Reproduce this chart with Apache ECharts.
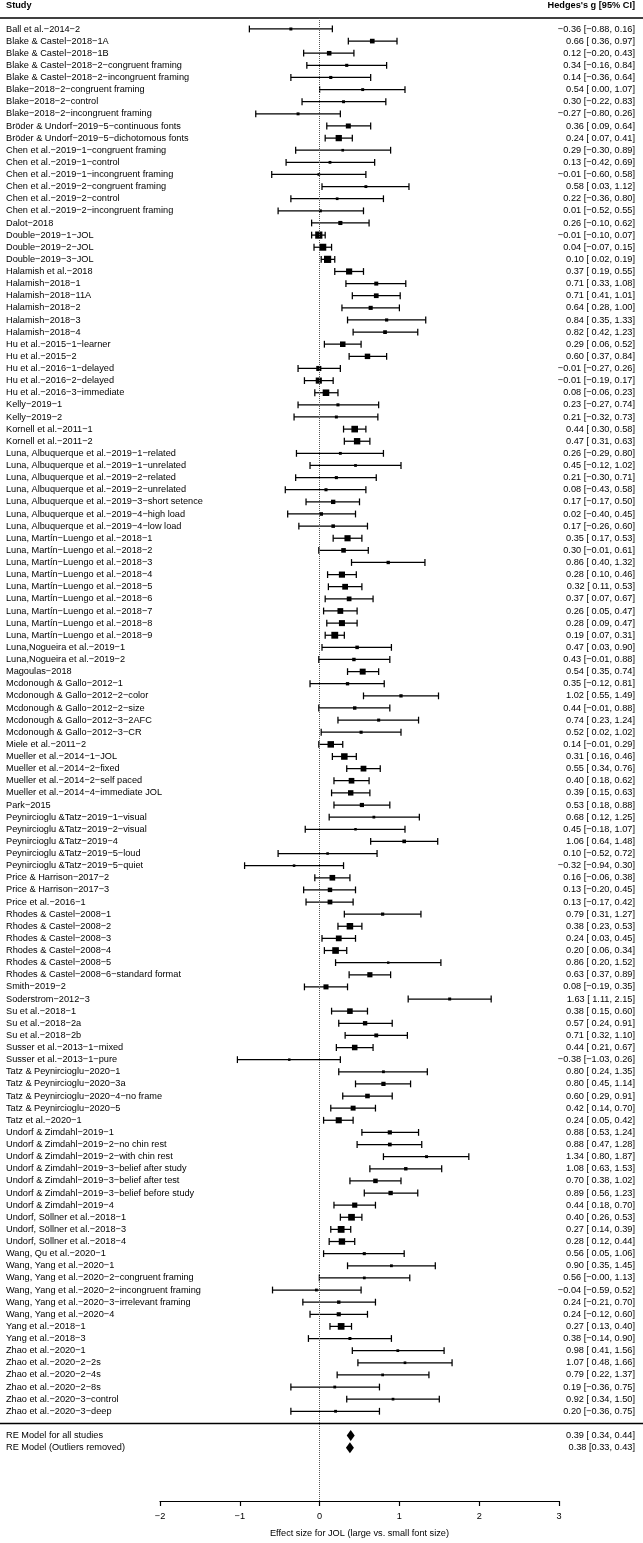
<!DOCTYPE html>
<html>
<head>
<meta charset="utf-8">
<script src="https://cdn.jsdelivr.net/npm/echarts@6/dist/echarts.min.js"></script>
<style>
html, body { margin: 0; padding: 0; background: #fff; }
#main { width: 643px; height: 1543px; }
</style>
</head>
<body>
<div id="main"></div>
<script>
// study labels, top to bottom
var studies = [
	'Ball et al.-2014-2',
	'Blake & Castel-2018-1A',
	'Blake & Castel-2018-1B',
	'Blake & Castel-2018-2-congruent framing',
	'Blake & Castel-2018-2-incongruent framing',
	'Blake-2018-2-congruent framing',
	'Blake-2018-2-control',
	'Blake-2018-2-incongruent framing',
	'Bröder & Undorf-2019-5-continuous fonts',
	'Bröder & Undorf-2019-5-dichotomous fonts',
	'Chen et al.-2019-1-congruent framing',
	'Chen et al.-2019-1-control',
	'Chen et al.-2019-1-incongruent framing',
	'Chen et al.-2019-2-congruent framing',
	'Chen et al.-2019-2-control',
	'Chen et al.-2019-2-incongruent framing',
	'Dalot-2018',
	'Double-2019-1-JOL',
	'Double-2019-2-JOL',
	'Double-2019-3-JOL',
	'Halamish et al.-2018',
	'Halamish-2018-1',
	'Halamish-2018-11A',
	'Halamish-2018-2',
	'Halamish-2018-3',
	'Halamish-2018-4',
	'Hu et al.-2015-1-learner',
	'Hu et al.-2015-2',
	'Hu et al.-2016-1-delayed',
	'Hu et al.-2016-2-delayed',
	'Hu et al.-2016-3-immediate',
	'Kelly-2019-1',
	'Kelly-2019-2',
	'Kornell et al.-2011-1',
	'Kornell et al.-2011-2',
	'Luna, Albuquerque et al.-2019-1-related',
	'Luna, Albuquerque et al.-2019-1-unrelated',
	'Luna, Albuquerque et al.-2019-2-related',
	'Luna, Albuquerque et al.-2019-2-unrelated',
	'Luna, Albuquerque et al.-2019-3-short setence',
	'Luna, Albuquerque et al.-2019-4-high load',
	'Luna, Albuquerque et al.-2019-4-low load',
	'Luna, Martín-Luengo et al.-2018-1',
	'Luna, Martín-Luengo et al.-2018-2',
	'Luna, Martín-Luengo et al.-2018-3',
	'Luna, Martín-Luengo et al.-2018-4',
	'Luna, Martín-Luengo et al.-2018-5',
	'Luna, Martín-Luengo et al.-2018-6',
	'Luna, Martín-Luengo et al.-2018-7',
	'Luna, Martín-Luengo et al.-2018-8',
	'Luna, Martín-Luengo et al.-2018-9',
	'Luna,Nogueira et al.-2019-1',
	'Luna,Nogueira et al.-2019-2',
	'Magoulas-2018',
	'Mcdonough & Gallo-2012-1',
	'Mcdonough & Gallo-2012-2-color',
	'Mcdonough & Gallo-2012-2-size',
	'Mcdonough & Gallo-2012-3-2AFC',
	'Mcdonough & Gallo-2012-3-CR',
	'Miele et al.-2011-2',
	'Mueller et al.-2014-1-JOL',
	'Mueller et al.-2014-2-fixed',
	'Mueller et al.-2014-2-self paced',
	'Mueller et al.-2014-4-immediate JOL',
	'Park-2015',
	'Peynircioglu &Tatz-2019-1-visual',
	'Peynircioglu &Tatz-2019-2-visual',
	'Peynircioglu &Tatz-2019-4',
	'Peynircioglu &Tatz-2019-5-loud',
	'Peynircioglu &Tatz-2019-5-quiet',
	'Price & Harrison-2017-2',
	'Price & Harrison-2017-3',
	'Price et al.-2016-1',
	'Rhodes & Castel-2008-1',
	'Rhodes & Castel-2008-2',
	'Rhodes & Castel-2008-3',
	'Rhodes & Castel-2008-4',
	'Rhodes & Castel-2008-5',
	'Rhodes & Castel-2008-6-standard format',
	'Smith-2019-2',
	'Soderstrom-2012-3',
	'Su et al.-2018-1',
	'Su et al.-2018-2a',
	'Su et al.-2018-2b',
	'Susser et al.-2013-1-mixed',
	'Susser et al.-2013-1-pure',
	'Tatz & Peynircioglu-2020-1',
	'Tatz & Peynircioglu-2020-3a',
	'Tatz & Peynircioglu-2020-4-no frame',
	'Tatz & Peynircioglu-2020-5',
	'Tatz et al.-2020-1',
	'Undorf & Zimdahl-2019-1',
	'Undorf & Zimdahl-2019-2-no chin rest',
	'Undorf & Zimdahl-2019-2-with chin rest',
	'Undorf & Zimdahl-2019-3-belief after study',
	'Undorf & Zimdahl-2019-3-belief after test',
	'Undorf & Zimdahl-2019-3-belief before study',
	'Undorf & Zimdahl-2019-4',
	'Undorf, Söllner et al.-2018-1',
	'Undorf, Söllner et al.-2018-3',
	'Undorf, Söllner et al.-2018-4',
	'Wang, Qu et al.-2020-1',
	'Wang, Yang et al.-2020-1',
	'Wang, Yang et al.-2020-2-congruent framing',
	'Wang, Yang et al.-2020-2-incongruent framing',
	'Wang, Yang et al.-2020-3-irrelevant framing',
	'Wang, Yang et al.-2020-4',
	'Yang et al.-2018-1',
	'Yang et al.-2018-3',
	'Zhao et al.-2020-1',
	'Zhao et al.-2020-2-2s',
	'Zhao et al.-2020-2-4s',
	'Zhao et al.-2020-2-8s',
	'Zhao et al.-2020-3-control',
	'Zhao et al.-2020-3-deep'
];

// Hedges's g and 95% CI
var est = [
	-0.36, 0.66, 0.12, 0.34, 0.14, 0.54, 0.30, -0.27, 0.36, 0.24,
	0.29, 0.13, -0.01, 0.58, 0.22, 0.01, 0.26, -0.01, 0.04, 0.10,
	0.37, 0.71, 0.71, 0.64, 0.84, 0.82, 0.29, 0.60, -0.01, -0.01,
	0.08, 0.23, 0.21, 0.44, 0.47, 0.26, 0.45, 0.21, 0.08, 0.17,
	0.02, 0.17, 0.35, 0.30, 0.86, 0.28, 0.32, 0.37, 0.26, 0.28,
	0.19, 0.47, 0.43, 0.54, 0.35, 1.02, 0.44, 0.74, 0.52, 0.14,
	0.31, 0.55, 0.40, 0.39, 0.53, 0.68, 0.45, 1.06, 0.10, -0.32,
	0.16, 0.13, 0.13, 0.79, 0.38, 0.24, 0.20, 0.86, 0.63, 0.08,
	1.63, 0.38, 0.57, 0.71, 0.44, -0.38, 0.80, 0.80, 0.60, 0.42,
	0.24, 0.88, 0.88, 1.34, 1.08, 0.70, 0.89, 0.44, 0.40, 0.27,
	0.28, 0.56, 0.90, 0.56, -0.04, 0.24, 0.24, 0.27, 0.38, 0.98,
	1.07, 0.79, 0.19, 0.92, 0.20
];
var lower = [
	-0.88, 0.36, -0.20, -0.16, -0.36, 0.00, -0.22, -0.80, 0.09, 0.07,
	-0.30, -0.42, -0.60, 0.03, -0.36, -0.52, -0.10, -0.10, -0.07, 0.02,
	0.19, 0.33, 0.41, 0.28, 0.35, 0.42, 0.06, 0.37, -0.27, -0.19,
	-0.06, -0.27, -0.32, 0.30, 0.31, -0.29, -0.12, -0.30, -0.43, -0.17,
	-0.40, -0.26, 0.17, -0.01, 0.40, 0.10, 0.11, 0.07, 0.05, 0.09,
	0.07, 0.03, -0.01, 0.35, -0.12, 0.55, -0.01, 0.23, 0.02, -0.01,
	0.16, 0.34, 0.18, 0.15, 0.18, 0.12, -0.18, 0.64, -0.52, -0.94,
	-0.06, -0.20, -0.17, 0.31, 0.23, 0.03, 0.06, 0.20, 0.37, -0.19,
	1.11, 0.15, 0.24, 0.32, 0.21, -1.03, 0.24, 0.45, 0.29, 0.14,
	0.05, 0.53, 0.47, 0.80, 0.63, 0.38, 0.56, 0.18, 0.26, 0.14,
	0.12, 0.05, 0.35, -0.003, -0.59, -0.21, -0.12, 0.13, -0.14, 0.41,
	0.48, 0.22, -0.36, 0.34, -0.36
];
var upper = [
	0.16, 0.97, 0.43, 0.84, 0.64, 1.07, 0.83, 0.26, 0.64, 0.41,
	0.89, 0.69, 0.58, 1.12, 0.80, 0.55, 0.62, 0.07, 0.15, 0.19,
	0.55, 1.08, 1.01, 1.00, 1.33, 1.23, 0.52, 0.84, 0.26, 0.17,
	0.23, 0.74, 0.73, 0.58, 0.63, 0.80, 1.02, 0.71, 0.58, 0.50,
	0.45, 0.60, 0.53, 0.61, 1.32, 0.46, 0.53, 0.67, 0.47, 0.47,
	0.31, 0.90, 0.88, 0.74, 0.81, 1.49, 0.88, 1.24, 1.02, 0.29,
	0.46, 0.76, 0.62, 0.63, 0.88, 1.25, 1.07, 1.48, 0.72, 0.30,
	0.38, 0.45, 0.42, 1.27, 0.53, 0.45, 0.34, 1.52, 0.89, 0.35,
	2.15, 0.60, 0.91, 1.10, 0.67, 0.26, 1.35, 1.14, 0.91, 0.70,
	0.42, 1.24, 1.28, 1.87, 1.53, 1.02, 1.23, 0.70, 0.53, 0.39,
	0.44, 1.06, 1.45, 1.13, 0.52, 0.70, 0.60, 0.40, 0.90, 1.56,
	1.66, 1.37, 0.75, 1.50, 0.75
];

// pooled estimates
var summaryLabels = ['RE Model for all studies', 'RE Model (Outliers removed)'];
var summaryEst = [0.39, 0.38];
var summaryLower = [0.34, 0.33];
var summaryUpper = [0.44, 0.43];
var summaryText = ['0.39 [ 0.34, 0.44]', '0.38 [0.33, 0.43]'];

var FONT = '"Liberation Sans", Arial, Helvetica, sans-serif';
var FS = 9.2;
var MINUS = '\u2212';

function num(v) {
	return (v < 0 ? MINUS : '') + Math.abs(v).toFixed(2);
}
function ciText(e, l, u) {
	return num(e) + ' [' + (l < 0 ? '' : ' ') + num(l) + ', ' + num(u) + ']';
}

// box size from random-effects weight (like metafor's psize, 0.5..1.5)
var TAU2 = 0.03;
var wts = lower.map(function (l, i) {
	var se = (upper[i] - l) / 3.92;
	return 1 / (se * se + TAU2);
});
var wMin = Math.min.apply(null, wts);
var wMax = Math.max.apply(null, wts);
function boxSize(i) {
	var ps = 0.5 + (wts[i] - wMin) / (wMax - wMin);
	return 4.8 * ps;
}

var studyData = est.map(function (e, i) {
	return [e, lower[i], upper[i], i];
});
var nStudies = studies.length;
var summaryData = summaryEst.map(function (e, i) {
	return [e, summaryLower[i], summaryUpper[i], nStudies + 1 + i];
});

function txt(text, x, y, align, bold) {
	return {
		type: 'text',
		style: {
			text: text, x: x, y: y, fill: '#000',
			fontSize: FS, fontFamily: FONT, fontWeight: bold ? 'bold' : 'normal',
			align: align, verticalAlign: 'middle'
		}
	};
}

function renderStudy(params, api) {
	var i = params.dataIndex;
	var y = api.coord([0, api.value(3)])[1];
	var xe = api.coord([api.value(0), 0])[0];
	var xl = api.coord([api.value(1), 0])[0];
	var xu = api.coord([api.value(2), 0])[0];
	var s = boxSize(i);
	var ls = { stroke: '#000', lineWidth: 1.25 };
	return {
		type: 'group',
		children: [
			{ type: 'line', shape: { x1: xl, y1: y, x2: xu, y2: y }, style: ls },
			{ type: 'line', shape: { x1: xl, y1: y - 3.4, x2: xl, y2: y + 3.4 }, style: ls },
			{ type: 'line', shape: { x1: xu, y1: y - 3.4, x2: xu, y2: y + 3.4 }, style: ls },
			{ type: 'rect', shape: { x: xe - s / 2, y: y - s / 2, width: s, height: s }, style: { fill: '#000' } },
			txt(studies[i].replace(/-/g, MINUS), 6, y, 'left'),
			txt(ciText(est[i], lower[i], upper[i]), 635, y, 'right')
		]
	};
}

function renderSummary(params, api) {
	var i = params.dataIndex;
	var y = api.coord([0, api.value(3)])[1];
	var xe = api.coord([api.value(0), 0])[0];
	var xl = api.coord([api.value(1), 0])[0];
	var xu = api.coord([api.value(2), 0])[0];
	return {
		type: 'group',
		children: [
			{
				type: 'polygon',
				shape: { points: [[xl, y], [xe, y - 5.5], [xu, y], [xe, y + 5.5]] },
				style: { fill: '#000' }
			},
			txt(summaryLabels[i], 6, y, 'left'),
			txt(summaryText[i], 635, y, 'right')
		]
	};
}

var chart = echarts.init(document.getElementById('main'), null, { renderer: 'canvas' });

chart.setOption({
	animation: false,
	backgroundColor: '#fff',
	grid: { left: 160, right: 84, top: 18, bottom: 39 },
	xAxis: {
		type: 'value',
		position: 'bottom',
		min: -2,
		max: 3,
		interval: 1,
		splitLine: { show: false },
		axisLine: { show: true, onZero: false, lineStyle: { color: '#000', width: 1.2 } },
		axisTick: { show: true, inside: false, length: 5, lineStyle: { color: '#000', width: 1.2 } },
		axisLabel: {
			color: '#000', fontSize: FS, fontFamily: FONT, margin: 11,
			formatter: function (v) { return (v < 0 ? MINUS : '') + Math.abs(v); }
		},
		name: 'Effect size for JOL (large vs. small font size)',
		nameLocation: 'middle',
		nameGap: 28,
		nameTextStyle: { color: '#000', fontSize: FS, fontFamily: FONT }
	},
	yAxis: {
		type: 'value',
		inverse: true,
		min: -0.905,
		max: 121.4,
		show: false
	},
	series: [
		{
			type: 'line',
			data: [],
			markLine: {
				silent: true,
				symbol: 'none',
				label: { show: false },
				lineStyle: { color: '#555', type: 'dotted', width: 1 },
				data: [{ xAxis: 0 }]
			}
		},
		{
			type: 'custom',
			clip: false,
			renderItem: renderStudy,
			encode: { x: [0, 1, 2], y: 3 },
			data: studyData
		},
		{
			type: 'custom',
			clip: false,
			renderItem: renderSummary,
			encode: { x: [0, 1, 2], y: 3 },
			data: summaryData
		}
	]
});

// header and rules
var sepY = chart.convertToPixel({ yAxisIndex: 0 }, nStudies);
chart.setOption({
	graphic: [
		{ type: 'text', left: 6, top: 1, style: { text: 'Study', fill: '#000', fontSize: FS, fontFamily: FONT, fontWeight: 'bold' } },
		{ type: 'text', right: 8, top: 1, style: { text: "Hedges's g [95% CI]", fill: '#000', fontSize: FS, fontFamily: FONT, fontWeight: 'bold' } },
		{ type: 'line', shape: { x1: 0, y1: 18, x2: 643, y2: 18 }, style: { stroke: '#000', lineWidth: 1.5 } },
		{ type: 'line', shape: { x1: 0, y1: sepY, x2: 643, y2: sepY }, style: { stroke: '#000', lineWidth: 1.5 } }
	]
});
</script>
</body>
</html>
